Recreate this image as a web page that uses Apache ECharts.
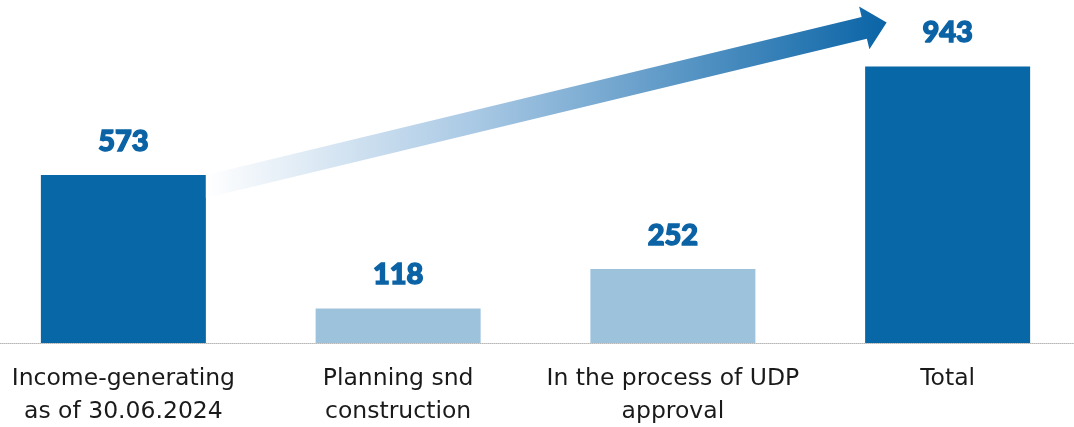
<!DOCTYPE html>
<html>
<head>
<meta charset="utf-8">
<script src="https://cdn.jsdelivr.net/npm/echarts@6/dist/echarts.min.js"></script>
<style>
  html, body { margin: 0; padding: 0; background: #ffffff; }
  #chart { width: 1074px; height: 427px; }
</style>
</head>
<body>
<div id="chart"></div>
<script>
// Portfolio breakdown (values per category)
const categories = [
  'Income-generating\nas of 30.06.2024',
  'Planning snd\nconstruction',
  'In the process of UDP\napproval',
  'Total'
];
const values = [573, 118, 252, 943];
// Which bars are shown in the strong tone
const emphasis = [true, false, false, true];

const DARK = '#0767a7';
const LIGHT = '#9dc3dc';
const LABEL_BLUE = '#0b63a5';
const BAR_WIDTH = 165;

const chart = echarts.init(document.getElementById('chart'), null, { renderer: 'canvas' });

chart.setOption({
  animation: false,
  backgroundColor: '#ffffff',
  grid: {
    left: -14, right: -11, top: 0, bottom: 84,
    containLabel: false,
    outerBoundsMode: 'none'
  },
  xAxis: {
    type: 'category',
    data: categories,
    axisTick: { show: false },
    axisLine: { show: true, lineStyle: { color: '#b8b8b8', type: [1, 1], width: 1 } },
    axisLabel: {
      interval: 0,
      margin: 19,
      color: '#1a1a1a',
      fontFamily: 'DejaVu Sans',
      fontSize: 23.5,
      lineHeight: 33
    }
  },
  yAxis: {
    type: 'value',
    min: 0,
    max: 1170,
    show: false,
    splitLine: { show: false }
  },
  series: [{
    type: 'bar',
    barWidth: BAR_WIDTH,
    data: values.map((v, i) => ({
      value: v,
      itemStyle: { color: emphasis[i] ? DARK : LIGHT }
    })),
    label: {
      show: true,
      position: 'top',
      distance: 19,
      color: LABEL_BLUE,
      fontFamily: 'Lato',
      fontWeight: 900,
      fontSize: 29,
      textBorderColor: LABEL_BLUE,
      textBorderWidth: 1.4
    }
  }]
});

// Gradient arrow rising from the first bar toward the total
function drawArrow() {
  const start = chart.convertToPixel({ seriesIndex: 0 }, [0, values[0]]);
  const end = chart.convertToPixel({ seriesIndex: 0 }, [3, values[3]]);
  const x0 = start[0] + BAR_WIDTH / 2;
  const yTop = start[1];
  const thick = 23;
  const tip = [end[0] - 61, end[1] - 44];

  const mid = [x0, yTop + thick / 2];
  const dx = tip[0] - mid[0], dy = tip[1] - mid[1];
  const L = Math.hypot(dx, dy);
  const u = [dx / L, dy / L];
  const n = [-u[1], u[0]];
  const half = 11.2, headLen = 23, headHalf = 22;
  const pt = (a, c) => [mid[0] + a * u[0] + c * n[0], mid[1] + a * u[1] + c * n[1]];

  const points = [
    [x0, yTop],
    pt(L - headLen, -half),
    pt(L - headLen, -headHalf),
    tip,
    pt(L - headLen, headHalf),
    pt(L - headLen, half),
    [x0, yTop + thick]
  ];

  chart.setOption({
    graphic: [{
      type: 'polygon',
      z: 10,
      shape: { points: points },
      style: {
        fill: new echarts.graphic.LinearGradient(x0, 0, tip[0], 0, [
          { offset: 0, color: '#ffffff' },
          { offset: 0.4, color: '#a8c8e4' },
          { offset: 1, color: '#0a64a6' }
        ], true)
      }
    }]
  });
}
drawArrow();
</script>
</body>
</html>
